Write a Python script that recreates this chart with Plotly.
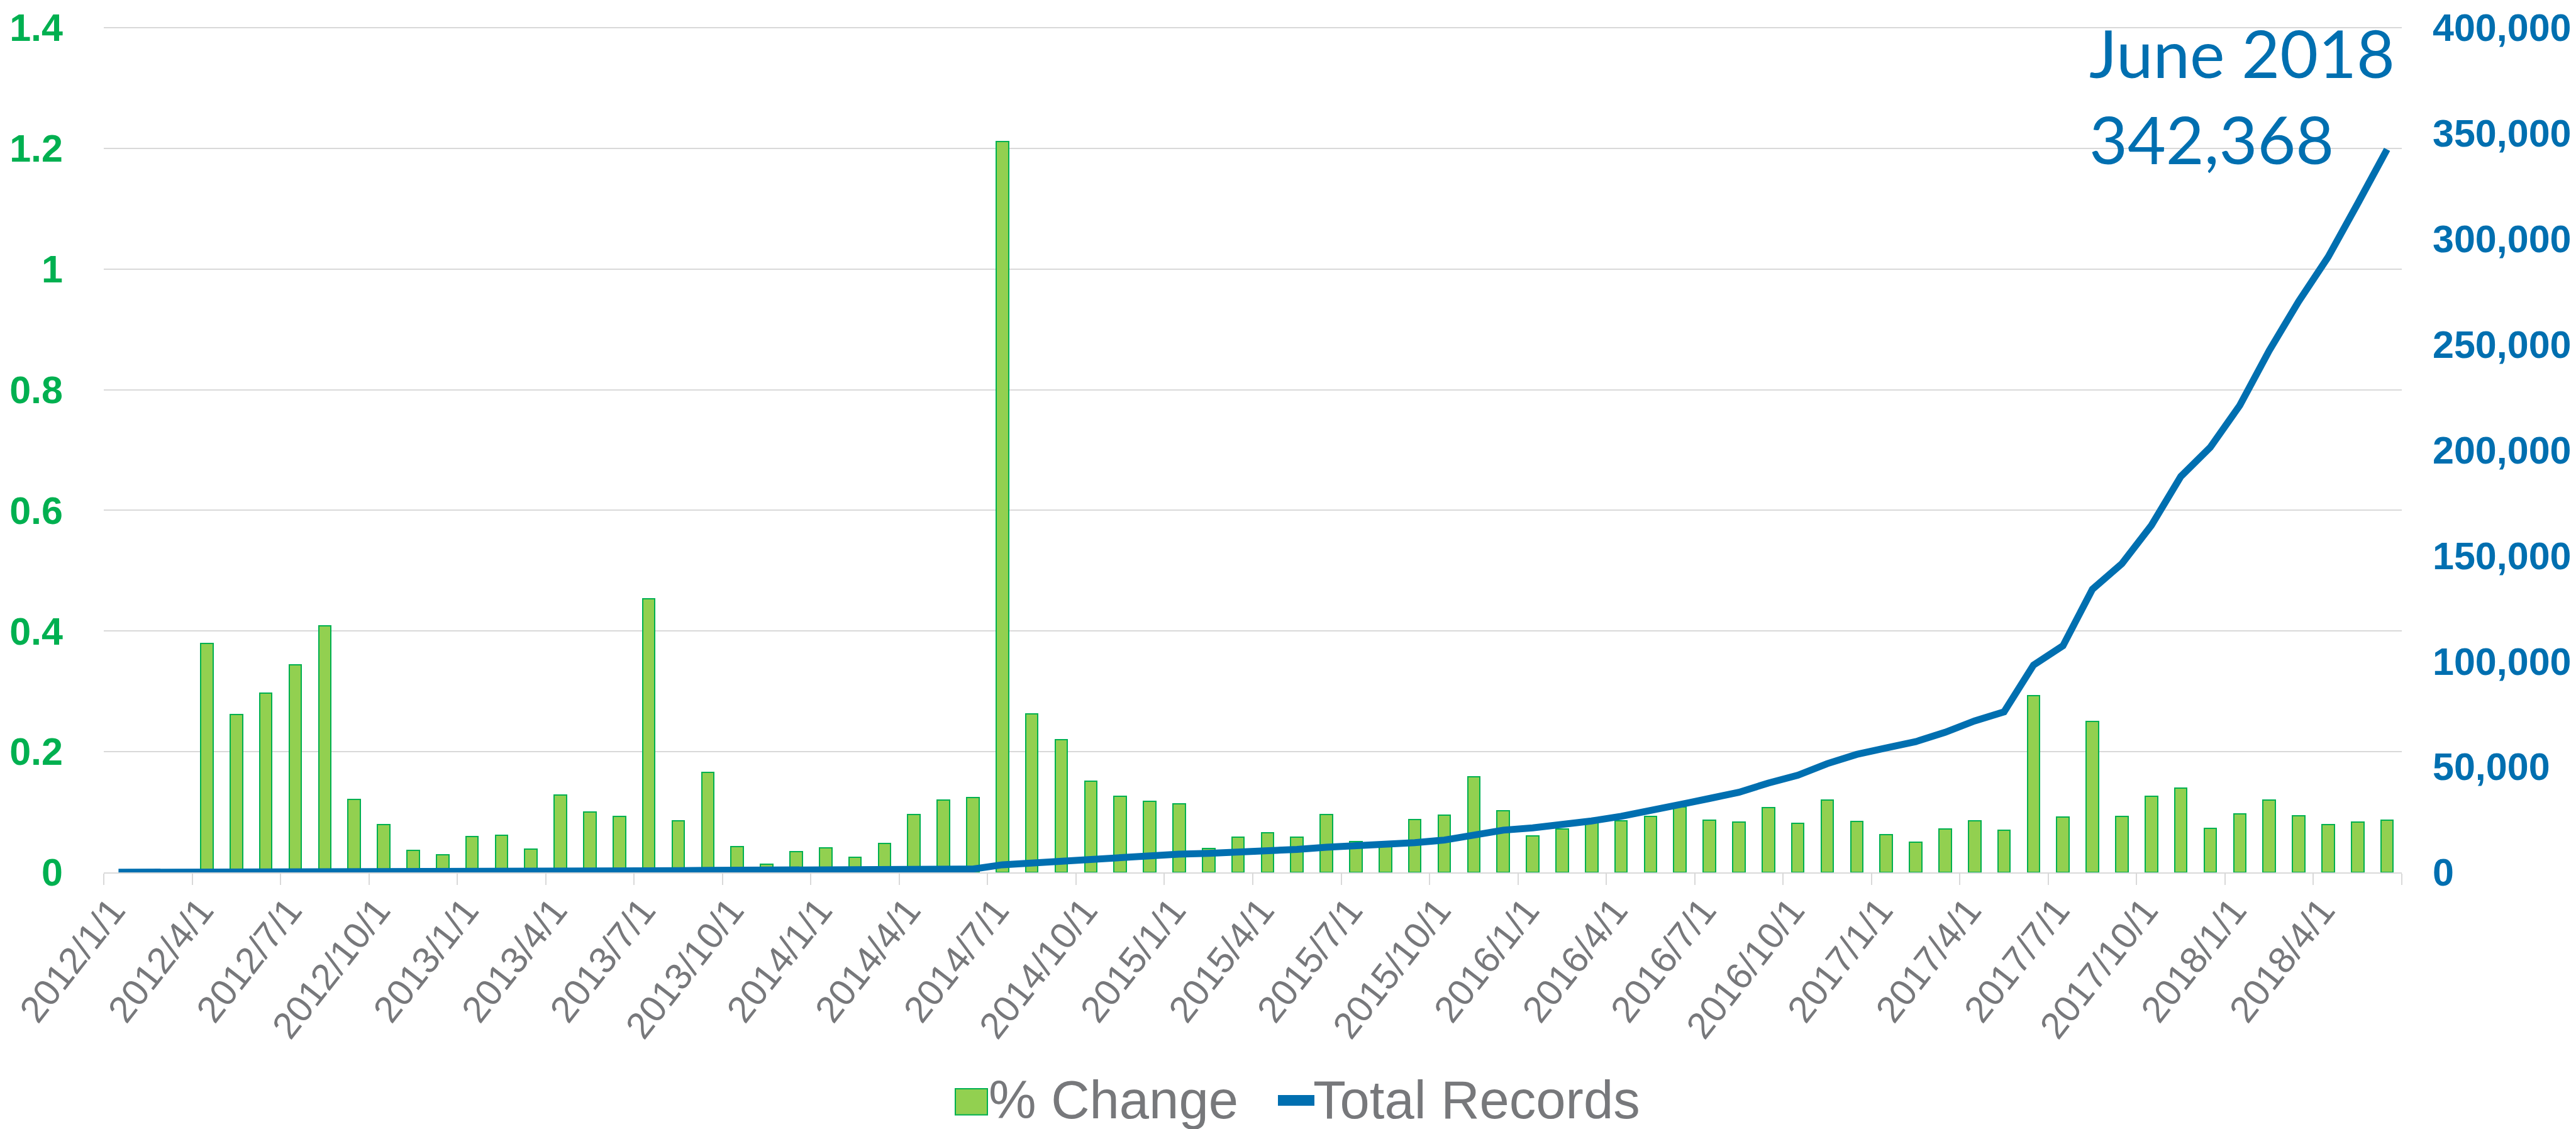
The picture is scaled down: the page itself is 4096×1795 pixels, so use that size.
import plotly.graph_objects as go

# ---------------- data ----------------
months = [f"{y}/{m}/1" for y in range(2012, 2019) for m in range(1, 13)][:78]

pct_change = [None, None, None, 0.379, 0.262, 0.297, 0.344, 0.409, 0.121, 0.079,
              0.037, 0.029, 0.059, 0.062, 0.039, 0.128, 0.100, 0.093, 0.453, 0.086,
              0.166, 0.043, 0.014, 0.034, 0.041, 0.025, 0.048, 0.096, 0.120, 0.124,
              1.211, 0.263, 0.220, 0.151, 0.126, 0.118, 0.114, 0.040, 0.058, 0.066,
              0.058, 0.096, 0.051, 0.047, 0.088, 0.095, 0.158, 0.102, 0.060, 0.072,
              0.082, 0.085, 0.093, 0.108, 0.087, 0.083, 0.107, 0.081, 0.120, 0.084,
              0.063, 0.050, 0.072, 0.086, 0.070, 0.293, 0.092, 0.250, 0.093, 0.126,
              0.140, 0.073, 0.097, 0.120, 0.094, 0.079, 0.083, 0.087]

total_records = [58, 58, 58, 80, 101, 131, 176, 248, 278, 300,
                 311, 320, 339, 360, 374, 422, 464, 507, 737, 800,
                 933, 972, 986, 1019, 1061, 1088, 1141, 1250, 1400, 1574,
                 3600, 4500, 5400, 6175, 6953, 7773, 8658, 9004, 9523, 10214,
                 10880, 11940, 12610, 12900, 14050, 15300, 17900, 20000, 21060, 22420,
                 24350, 26550, 28970, 32100, 35000, 37900, 42300, 46000, 51500, 55870,
                 58960, 61900, 66340, 71710, 76010, 98170, 107320, 134100, 146200, 164300,
                 187500, 201300, 221100, 247100, 270400, 291400, 316600, 342368]

left_ticks = [0, 0.2, 0.4, 0.6, 0.8, 1, 1.2, 1.4]
left_tick_text = ["0", "0.2", "0.4", "0.6", "0.8", "1", "1.2", "1.4"]
right_ticks = [0, 50000, 100000, 150000, 200000, 250000, 300000, 350000, 400000]

label_every = 3
tick_idx = [i for i in range(len(months)) if i % label_every == 0]
tick_text = [months[i] for i in tick_idx]
boundaries = [i - 0.5 for i in range(0, len(months) + 1, label_every)]

# ---------------- styling ----------------
GREEN_FILL = "#92D050"
GREEN_LINE = "#00B050"
BLUE = "#006FB0"
GRAY = "#77787B"
GRID = "#D9D9D9"

W, H = 4096, 1795
L, R, T, B = 157, 3811, 34, 1379
TOP_PX = 36                      # pixel row of the top gridline
EPS = (B - T) / (B - TOP_PX)     # headroom so the top gridline is drawn inside


def px(x):
    return (x - L) / (R - L)


def py(y):
    return (B - y) / (B - T)


x_idx = list(range(len(months)))

fig = go.Figure()
fig.add_trace(go.Bar(
    x=x_idx, y=pct_change, name="% Change", width=0.42,
    marker=dict(color=GREEN_FILL, line=dict(color=GREEN_LINE, width=2)),
    yaxis="y", showlegend=False,
))
fig.add_trace(go.Scatter(
    x=x_idx, y=total_records, name="Total Records", mode="lines",
    line=dict(color=BLUE, width=11, shape="linear"),
    yaxis="y2", showlegend=False,
))

fig.update_layout(
    width=W, height=H,
    margin=dict(l=L, r=W - R, t=T, b=H - B, pad=0),
    paper_bgcolor="white", plot_bgcolor="white",
    showlegend=False,
    bargap=0,
    xaxis=dict(
        range=[-0.5, len(months) - 0.5], automargin=False,
        tickmode="array", tickvals=tick_idx, ticktext=tick_text,
        tickangle=-52, tickfont=dict(family="Liberation Sans, Arial", size=59, color=GRAY),
        ticks="", ticklabelstandoff=0, ticklabelshift=-10, ticklabeloverflow="allow",
        showgrid=False, zeroline=False,
        showline=True, linecolor=GRID, linewidth=2,
        minor=dict(tickmode="array", tickvals=boundaries, ticks="outside",
                   ticklen=18, tickwidth=2, tickcolor=GRID, showgrid=False),
    ),
    yaxis=dict(
        range=[0, max(left_ticks) * EPS], automargin=False,
        tickmode="array", tickvals=left_ticks, ticktext=left_tick_text,
        tickfont=dict(family="Liberation Sans, Arial", size=61, color=GREEN_LINE, weight="bold"),
        showgrid=True, gridcolor=GRID, gridwidth=2, ticklabeloverflow="allow",
        zeroline=False, showline=False, ticks="", ticklabelstandoff=64,
    ),
    yaxis2=dict(
        range=[0, max(right_ticks) * EPS], overlaying="y", side="right",
        automargin=False, tickmode="array", tickvals=right_ticks, tickformat=",",
        tickfont=dict(family="Liberation Sans, Arial", size=61, color=BLUE, weight="bold"),
        showgrid=False, zeroline=False, showline=False, ticks="", ticklabelstandoff=48,
        ticklabeloverflow="allow",
    ),
)

# annotation for the last point
fig.add_annotation(
    x=px(3312), y=py(143), xref="paper", yref="paper",
    text=f"June 2018<br>{total_records[-1]:,}", showarrow=False,
    xanchor="left", yanchor="middle", align="left",
    font=dict(family="Lato", size=105, color=BLUE),
)

# custom legend
fig.add_shape(type="rect", xref="paper", yref="paper",
              x0=px(1511), x1=px(1562), y0=py(1764.5), y1=py(1723),
              fillcolor=GREEN_FILL, line=dict(color=GREEN_LINE, width=2))
fig.add_shape(type="line", xref="paper", yref="paper",
              x0=px(2024), x1=px(2082), y0=py(1741.5), y1=py(1741.5),
              line=dict(color=BLUE, width=17))
fig.add_annotation(x=px(1562), y=py(1740.7), xref="paper", yref="paper",
                   text="% Change", showarrow=False, xanchor="left", yanchor="middle",
                   font=dict(family="Liberation Sans, Arial", size=85, color=GRAY))
fig.add_annotation(x=px(2078), y=py(1740.7), xref="paper", yref="paper",
                   text="Total Records", showarrow=False, xanchor="left", yanchor="middle",
                   font=dict(family="Liberation Sans, Arial", size=85, color=GRAY))

fig.write_html("out.html")
